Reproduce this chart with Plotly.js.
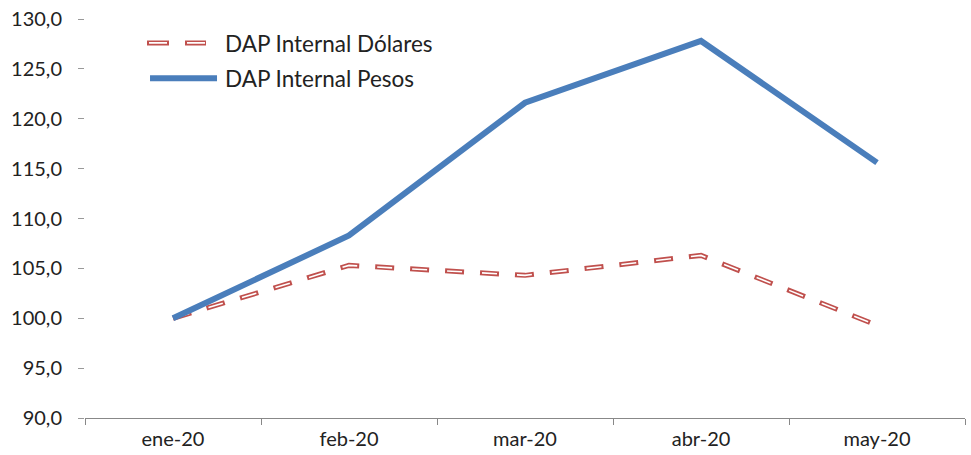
<!DOCTYPE html>
<html>
<head>
<meta charset="utf-8">
<script src="https://cdn.plot.ly/plotly-3.0.1.min.js"></script>
<style>html,body{margin:0;padding:0;background:#fff;}#chart{width:971px;height:455px;}</style>
</head>
<body>
<div id="chart"></div>
<script>
const categories = ["ene-20", "feb-20", "mar-20", "abr-20", "may-20"];
const dolares = [100.0, 105.3, 104.3, 106.3, 99.3];
const pesos = [100.0, 108.3, 121.6, 127.8, 115.6];
const yTicks = [90, 95, 100, 105, 110, 115, 120, 125, 130];
const yTickLabels = ["90,0", "95,0", "100,0", "105,0", "110,0", "115,0", "120,0", "125,0", "130,0"];

const red = "#C0504D";
const blue = "#4A7EBB";
const dashPat = "19px,16px";

const traces = [
  {x: categories, y: dolares, type: "scatter", mode: "lines", name: "DAP Internal Dólares",
   legendgroup: "a", line: {color: red, width: 5, dash: dashPat}},
  {x: categories, y: dolares, type: "scatter", mode: "lines", name: "inner", showlegend: false,
   legendgroup: "a", hoverinfo: "skip", line: {color: "#ffffff", width: 1.6, dash: "15px,20px"}},
  {x: categories, y: pesos, type: "scatter", mode: "lines", name: "DAP Internal Pesos",
   legendgroup: "b", line: {color: blue, width: 6}}
];

const layout = {
  width: 971, height: 455,
  margin: {l: 85, r: 6, t: 19, b: 37},
  paper_bgcolor: "#fff", plot_bgcolor: "#fff",
  font: {family: "Lato, 'DejaVu Sans', sans-serif", color: "#222", size: 20},
  showlegend: true,
  legend: {x: 0.0682, y: 0.993, xanchor: "left", yanchor: "top", bgcolor: "rgba(0,0,0,0)",
           font: {size: 22.5, color: "#222"}, itemwidth: 70, traceorder: "grouped", tracegroupgap: 3},
  xaxis: {type: "category", range: [-0.5, 4.5], tickson: "boundaries",
          showline: true, linecolor: "#888", linewidth: 1.2,
          ticks: "outside", ticklen: 6, tickcolor: "#888", showgrid: false, zeroline: false,
          tickfont: {size: 20, color: "#222"}, ticklabelstandoff: 3},
  yaxis: {range: [90, 130], tickvals: yTicks, ticktext: yTickLabels, showline: false,
          ticks: "outside", ticklen: 6, tickcolor: "#999", showgrid: false, zeroline: false,
          tickfont: {size: 20, color: "#222"}, ticklabelstandoff: 12}
};

Plotly.newPlot("chart", traces, layout, {displayModeBar: false, staticPlot: true}).then(function(gd){
  const paths = gd.querySelectorAll(".scatterlayer .trace path.js-line");
  if (paths[1]) paths[1].style.strokeDashoffset = "-2px";
  const legendLines = gd.querySelectorAll(".legend .traces .legendlines path");
  if (legendLines[0]) {
    const p = legendLines[0];
    p.setAttribute("d", "M2,0h59");
    p.style.strokeDasharray = "22px,16px";
    const c = p.cloneNode(true);
    c.style.stroke = "#ffffff";
    c.style.strokeWidth = "1.6px";
    c.style.strokeDasharray = "18px,20px";
    c.style.strokeDashoffset = "-2px";
    p.parentNode.appendChild(c);
  }
  if (legendLines[1]) legendLines[1].setAttribute("d", "M5,0h67");
});
</script>
</body>
</html>
